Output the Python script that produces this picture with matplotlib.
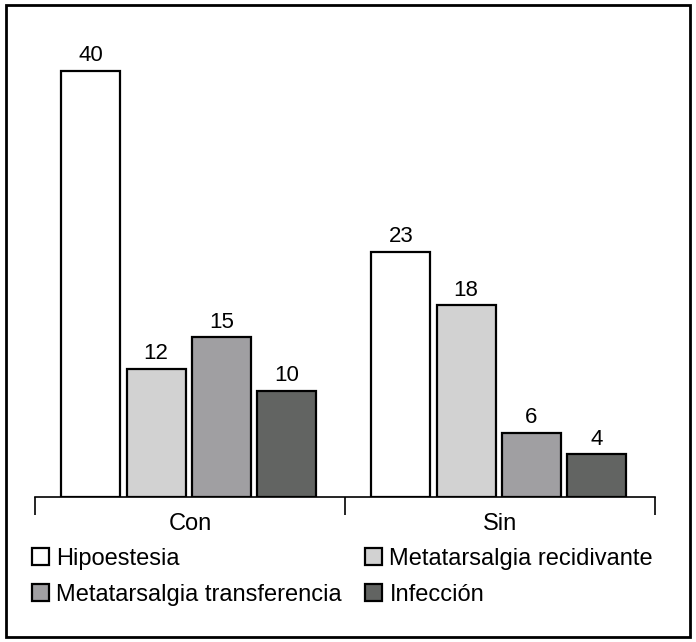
import matplotlib
matplotlib.use("Agg")
import matplotlib.pyplot as plt
from matplotlib.patches import Rectangle

plt.rcParams['font.family'] = ['Liberation Sans', 'DejaVu Sans']

groups = ["Con", "Sin"]
series = ["Hipoestesia", "Metatarsalgia recidivante", "Metatarsalgia transferencia", "Infección"]
values = {
    "Hipoestesia": [40, 23],
    "Metatarsalgia recidivante": [12, 18],
    "Metatarsalgia transferencia": [15, 6],
    "Infección": [10, 4],
}
colors = ["#ffffff", "#d2d2d2", "#a09fa2", "#626462"]

W, H = 696, 642
fig = plt.figure(figsize=(W / 100, H / 100), dpi=100)
ax = fig.add_axes([35 / W, 1 - 497 / H, 620 / W, (497 - 18) / H])

step = 0.2105
width = 0.19
handles = []
for k, s in enumerate(series):
    xs = [i + (k - 1.5) * step - 0.004 for i in range(len(groups))]
    b = ax.bar(xs, values[s], width=width, color=colors[k], edgecolor="black", linewidth=1.6, label=s)
    handles.append(b)
    for x, v in zip(xs, values[s]):
        ax.text(x, v + 0.45, str(v), ha="center", va="bottom", fontsize=16)

ax.set_xlim(-0.5, 1.5)
ax.set_ylim(0, 45)
for side in ["top", "right", "left"]:
    ax.spines[side].set_visible(False)
ax.spines["bottom"].set_linewidth(1.2)
ax.set_yticks([])
ax.set_xticks([-0.5, 0.5, 1.5])
ax.set_xticklabels([])
ax.tick_params(axis="x", direction="out", length=13, width=1.2)
for i, g in enumerate(groups):
    ax.text(i, -2.5, g, ha="center", va="center", fontsize=17)

leg = fig.legend([handles[0], handles[2], handles[1], handles[3]],
                 [series[0], series[2], series[1], series[3]],
                 ncol=2, loc="upper left", bbox_to_anchor=(32 / W, 1 - 548 / H),
                 frameon=False, fontsize=17, handlelength=0.72, handleheight=0.72,
                 handletextpad=0.3, columnspacing=1.0, labelspacing=0.58,
                 borderaxespad=0, borderpad=0)

fig.patches.append(Rectangle((6 / W, 5 / H), 684 / W, 632 / H, transform=fig.transFigure,
                             fill=False, edgecolor="black", linewidth=2))

fig.savefig("out.png", dpi=100)
